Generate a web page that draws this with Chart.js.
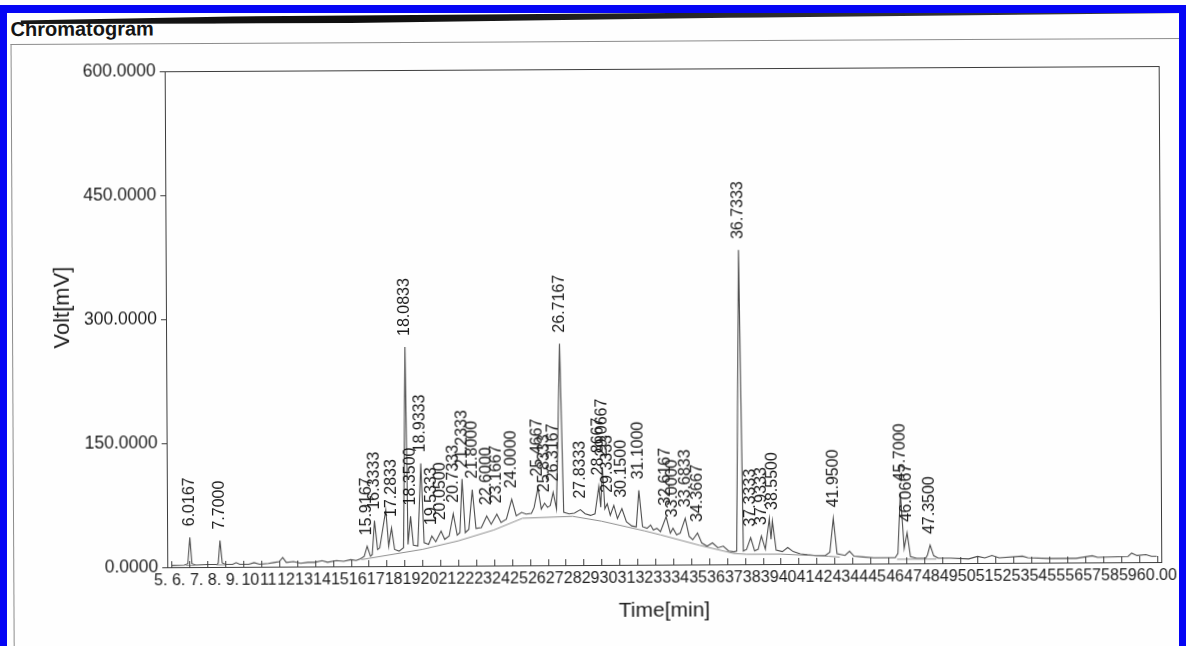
<!DOCTYPE html>
<html>
<head>
<meta charset="utf-8">
<title>Chromatogram</title>
<script src="https://cdn.jsdelivr.net/npm/chart.js@4.4.1/dist/chart.umd.min.js"></script>
<style>
  html, body { margin: 0; padding: 0; background: #ffffff; }
  #page { position: relative; width: 1186px; height: 646px; overflow: hidden; background: #fefefe; }
  #sheet { position: absolute; left: 0; top: 0; width: 1186px; height: 646px;
           transform: rotate(-0.3deg); transform-origin: 593px 323px; }
  #sheet canvas { position: absolute; left: 0; top: 0; }
  .heading { position: absolute; left: 12px; top: 15px; margin: 0;
             font: bold 20px "Liberation Sans", Arial, sans-serif; color: #141414; }
  .print-top { position: absolute; left: 12px; top: 41px; width: 1190px; border-top: 1px solid #8c8c8c; }
  .print-left { position: absolute; left: 12px; top: 41px; height: 640px; border-left: 1px solid #8c8c8c; }
  .paper-edge { position: absolute; left: 22px; top: 12px; width: 1180px; height: 10px;
                background: linear-gradient(90deg, #181818 0%, #0e0e0e 30%, #2a2a2a 60%, #3c3c3c 100%);
                clip-path: polygon(0 55%, 18% 25%, 55% 15%, 100% 0, 100% 40%, 60% 65%, 25% 100%, 0 90%); }
  .blue { position: absolute; background: #0505f5; }
</style>
</head>
<body>
<div id="page">
  <div id="sheet">
    <div class="print-top"></div>
    <div class="print-left"></div>
    <p class="heading">Chromatogram</p>
    <div class="paper-edge"></div>
    <canvas id="chromatogram" width="1186" height="646"></canvas>
  </div>
  <div class="blue" style="left:0;top:5px;width:1186px;height:8px;"></div>
  <div class="blue" style="left:0;top:5px;width:7px;height:641px;"></div>
  <div class="blue" style="left:1179px;top:5px;width:7px;height:641px;"></div>
</div>
<script>
// Detector signal (retention time in minutes, signal in mV)
const traceTime = [
  5.00, 5.70, 5.90, 6.0167, 6.13, 6.35, 7.00, 7.55, 7.60, 7.70, 7.82, 8.00,
  8.40, 8.60, 8.80, 9.30, 9.60, 9.90, 10.40, 10.70, 11.00, 11.20, 11.40, 11.80,
  12.20, 12.60, 13.00, 13.40, 13.70, 14.20, 14.60, 15.00, 15.30, 15.55, 15.75,
  15.9167, 16.10, 16.20, 16.3333, 16.50, 16.62, 16.9667, 17.12, 17.2833, 17.45,
  17.70, 17.95, 18.0833, 18.20, 18.35, 18.50, 18.75, 18.9333, 19.10, 19.35,
  19.5333, 19.75, 20.05, 20.25, 20.50, 20.7333, 20.95, 21.10, 21.2333, 21.40,
  21.60, 21.80, 22.00, 22.30, 22.60, 22.85, 23.1667, 23.40, 23.70, 24.00, 24.25,
  24.55, 24.80, 25.10, 25.25, 25.4667, 25.65, 25.8333, 26.00, 26.15, 26.3167,
  26.50, 26.7167, 26.90, 27.20, 27.50, 27.8333, 28.10, 28.40, 28.65, 28.8667,
  28.97, 29.0667, 29.20, 29.3333, 29.50, 29.70, 29.90, 30.15, 30.40, 30.70,
  30.95, 31.10, 31.30, 31.55, 31.75, 31.90, 32.10, 32.30, 32.6167, 32.85, 33.00,
  33.20, 33.40, 33.6833, 33.90, 34.10, 34.3667, 34.60, 34.90, 35.20, 35.50,
  35.80, 36.10, 36.40, 36.55, 36.7333, 36.92, 37.10, 37.3333, 37.55, 37.75,
  37.9333, 38.15, 38.38, 38.47, 38.55, 38.75, 39.10, 39.40, 39.70, 40.10, 40.50,
  41.00, 41.50, 41.75, 41.95, 42.15, 42.60, 42.85, 43.10, 43.60, 44.20, 44.80,
  45.40, 45.55, 45.70, 45.90, 46.0667, 46.25, 46.60, 47.10, 47.20, 47.35, 47.55,
  47.80, 48.50, 49.50, 50.00, 50.40, 50.80, 51.20, 52.50, 52.80, 54.00, 55.50,
  56.40, 56.70, 58.40, 58.60, 58.90, 59.40, 59.70, 60.00
];
const traceVolt = [
  2, 2.5, 4, 36, 4, 2.5, 3, 3, 5, 32, 5, 3,
  3, 5, 3, 3, 5, 3, 4, 5, 6, 11, 5, 6,
  4, 5, 5, 7, 5, 7, 6, 8, 7, 9, 12,
  24, 12, 14, 55, 20, 22, 68, 24, 46, 20,
  18, 22, 265, 26, 60, 25, 24, 124, 28, 26,
  36, 29, 42, 32, 36, 63, 37, 40, 105, 40,
  44, 92, 45, 46, 60, 50, 62, 52, 56, 80, 60,
  64, 62, 63, 70, 94, 68, 75, 70, 72, 88,
  68, 268, 64, 62, 63, 67, 62, 60, 62, 95,
  70, 118, 68, 74, 60, 72, 56, 68, 52, 47,
  46, 90, 46, 44, 48, 42, 44, 40, 58, 38, 44,
  36, 38, 56, 34, 30, 38, 26, 22, 26, 20,
  22, 16, 15, 16, 380, 16, 18, 32, 16, 18,
  34, 18, 55, 30, 52, 17, 15, 20, 15, 12, 11,
  10, 10, 14, 55, 12, 10, 15, 9, 8, 7, 7,
  7, 12, 86, 18, 37, 8, 6, 6, 10, 22, 9,
  6, 6, 5, 8, 6, 9, 6, 8, 6, 5, 5,
  8, 6, 7, 11, 8, 9, 7, 7
];

// Integration baseline drawn under the peak groups
const baseTime = [5.80, 6.30, null, 7.50, 8.00, null, 15.60, 19.00, 21.00, 23.00, 24.60,
                  27.40, 29.00, 31.40, 32.30, 34.50, 36.40, 37.10, 39.00, 41.70, 42.30,
                  null, 45.50, 46.40, 47.20, 47.70];
const baseVolt = [2, 2, null, 2.5, 2.5, null, 8, 20, 30, 43, 57,
                  59, 53, 41, 36, 23, 13, 12, 12, 9, 8,
                  null, 5, 5, 5, 5];

// Retention times printed above the integrated peaks
const peakTimes = [6.0167, 7.7000, 15.9167, 16.3333, 17.2833, 18.0833, 18.3500, 18.9333,
                   19.5333, 20.0500, 20.7333, 21.2333, 21.8000, 22.6000, 23.1667, 24.0000,
                   25.4667, 25.8333, 26.3167, 26.7167, 27.8333, 28.8667, 29.0667, 29.3333,
                   30.1500, 31.1000, 32.6167, 33.0000, 33.6833, 34.3667, 36.7333, 37.3333,
                   37.9333, 38.5500, 41.9500, 45.7000, 46.0667, 47.3500];

// Axis ticks
const xTickValues = [5, 6, 7, 8, 9, 10, 11, 12, 13, 14, 15, 16, 17, 18, 19, 20, 21, 22, 23, 24,
                     25, 26, 27, 28, 29, 30, 31, 32, 33, 34, 35, 36, 37, 38, 39, 40, 41, 42, 43,
                     44, 45, 46, 47, 48, 49, 50, 51, 52, 53, 54, 55, 56, 57, 58, 59, 60];
const xTickLabels = ['5.', '6.', '7.', '8.', '9.', '10', '11', '12', '13', '14', '15', '16', '17',
                     '18', '19', '20', '21', '22', '23', '24', '25', '26', '27', '28', '29', '30',
                     '31', '32', '33', '34', '35', '36', '37', '38', '39', '40', '41', '42', '43',
                     '44', '45', '46', '47', '48', '49', '50', '51', '52', '53', '54', '55', '56',
                     '57', '58', '59', '60.00'];
const yTickValues = [0, 150, 300, 450, 600];

const FONT = '"Liberation Sans", Arial, sans-serif';

function toPoints(xs, ys) {
  return xs.map((t, i) => ({ x: t, y: ys[i] }));
}

// Plot frame and the short inward minute ticks along the time axis
const plotFrame = {
  id: 'plotFrame',
  afterDatasetsDraw(chart) {
    const { ctx, chartArea: a, scales: { x } } = chart;
    ctx.save();
    ctx.strokeStyle = '#3c3c3c';
    ctx.lineWidth = 1;
    ctx.strokeRect(Math.round(a.left) + 0.5, Math.round(a.top) + 0.5,
                   Math.round(a.right - a.left), Math.round(a.bottom - a.top));
    ctx.beginPath();
    x.ticks.forEach(tk => {
      const px = Math.round(x.getPixelForValue(tk.value)) + 0.5;
      ctx.moveTo(px, a.bottom);
      ctx.lineTo(px, a.bottom - 6);
    });
    ctx.stroke();
    ctx.restore();
  }
};

// Vertical retention-time labels above each peak apex
const peakLabels = {
  id: 'peakLabels',
  afterDatasetsDraw(chart) {
    const { ctx, scales: { x, y } } = chart;
    ctx.save();
    ctx.font = '16px ' + FONT;
    ctx.fillStyle = '#1a1a1a';
    ctx.textAlign = 'left';
    ctx.textBaseline = 'middle';
    peakTimes.forEach(t => {
      const i = traceTime.indexOf(t);
      if (i < 0) return;
      const px = x.getPixelForValue(t);
      const py = y.getPixelForValue(traceVolt[i]) - 11;
      ctx.save();
      ctx.translate(px, py);
      ctx.rotate(-Math.PI / 2);
      ctx.fillText(t.toFixed(4), 0, 0);
      ctx.restore();
    });
    ctx.restore();
  }
};

new Chart(document.getElementById('chromatogram'), {
  type: 'line',
  data: {
    datasets: [
      {
        label: 'Baseline',
        data: toPoints(baseTime, baseVolt),
        borderColor: '#8e8e8e',
        borderWidth: 1,
        pointRadius: 0,
        spanGaps: false,
        tension: 0
      },
      {
        label: 'Signal',
        data: toPoints(traceTime, traceVolt),
        borderColor: '#4e4e4e',
        borderWidth: 1.1,
        pointRadius: 0,
        tension: 0
      }
    ]
  },
  options: {
    responsive: false,
    devicePixelRatio: 1,
    animation: false,
    layout: { padding: { left: 0, top: 69, right: 26, bottom: 0 } },
    plugins: {
      legend: { display: false },
      tooltip: { enabled: false }
    },
    scales: {
      x: {
        type: 'linear',
        min: 4.75,
        max: 60.25,
        afterBuildTicks(scale) {
          scale.ticks = xTickValues.map(v => ({ value: v }));
        },
        afterFit(scale) {
          scale.height = 81;
          // the end labels may run into the side margins
          scale.paddingLeft = 0;
          scale.paddingRight = 0;
        },
        grid: { display: false, drawTicks: false },
        border: { display: false },
        ticks: {
          autoSkip: false,
          maxRotation: 0,
          minRotation: 0,
          padding: 4,
          labelOffset: -11,
          color: '#1c1c1c',
          font: { family: FONT, size: 16 },
          callback(value, index) {
            const text = xTickLabels[index];
            return index === xTickLabels.length - 1 ? '     ' + text : text;
          }
        },
        title: {
          display: true,
          text: 'Time[min]',
          color: '#1c1c1c',
          font: { family: FONT, size: 21 },
          padding: { top: 0, bottom: 22 }
        }
      },
      y: {
        type: 'linear',
        min: 0,
        max: 600,
        afterBuildTicks(scale) {
          scale.ticks = yTickValues.map(v => ({ value: v }));
        },
        afterFit(scale) { scale.width = 166; },
        grid: { drawOnChartArea: false, drawTicks: true, tickLength: 5, color: '#3c3c3c' },
        border: { display: false },
        ticks: {
          padding: 4,
          color: '#1c1c1c',
          font: { family: FONT, size: 17.5 },
          callback(value) { return Number(value).toFixed(4); }
        },
        title: {
          display: true,
          text: '    Volt[mV]',
          color: '#1c1c1c',
          font: { family: FONT, size: 22 },
          padding: { top: 50, bottom: 0 }
        }
      }
    }
  },
  plugins: [plotFrame, peakLabels]
});
</script>
</body>
</html>
